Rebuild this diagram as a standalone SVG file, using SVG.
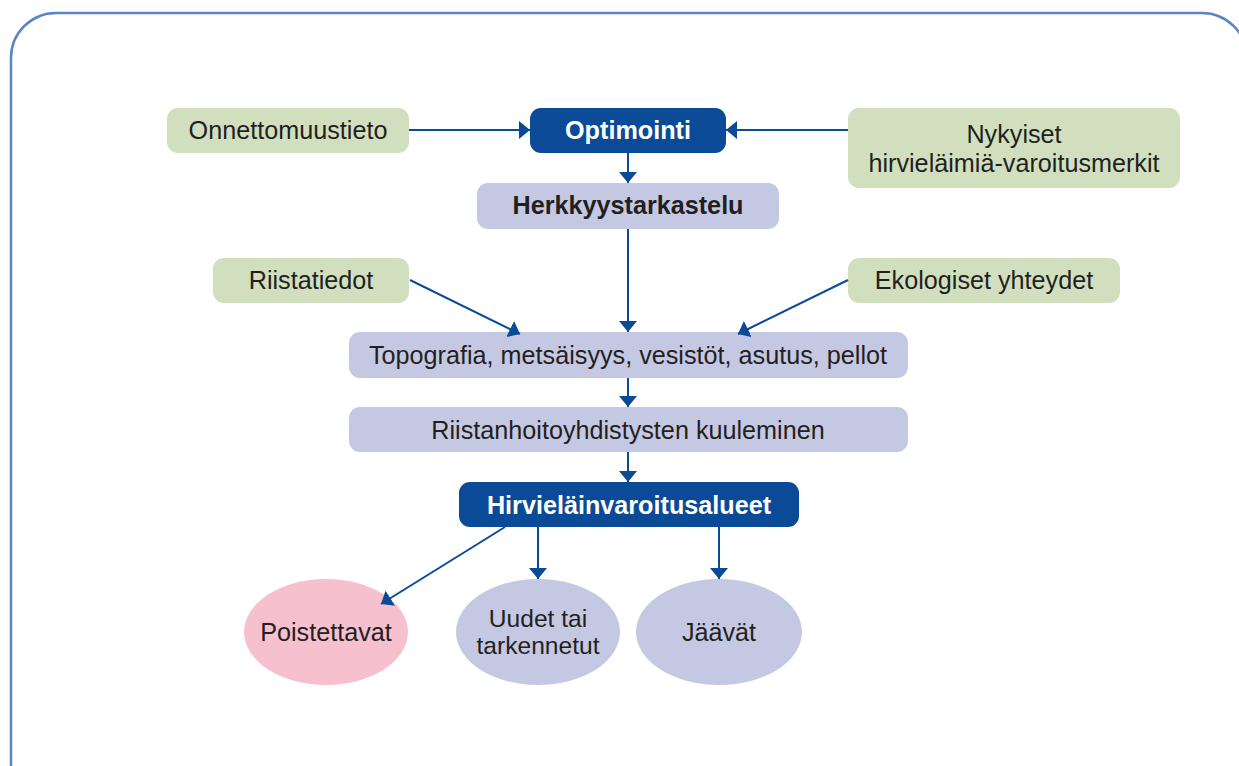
<svg xmlns="http://www.w3.org/2000/svg" width="1239" height="766" viewBox="0 0 1239 766">
<style>
.g{fill:#d1dfbf}
.l{fill:#c5c8e3}
.d{fill:#0b4a96}
.p{fill:#f6c0cf}
text{font-family:"Liberation Sans",Arial,sans-serif;font-size:25.2px;fill:#231f20;text-anchor:middle}
.b{font-weight:bold}
.w{fill:#ffffff}
.s{font-size:24.6px}
.c{stroke:#0b4a96;stroke-width:2;fill:none}
</style>
<defs>
<marker id="a" markerWidth="12" markerHeight="18" refX="11" refY="9" orient="auto" markerUnits="userSpaceOnUse">
<path d="M0,0 L11,9 L0,18 Z" fill="#0b4a96"/>
</marker>
</defs>
<rect width="1239" height="766" fill="#ffffff"/>
<path d="M11,770 V58 A45,45 0 0 1 56,13 H1202 A45,45 0 0 1 1247,58 V770" fill="none" stroke="#5a84c4" stroke-width="2.5"/>
<g id="onnettomuustieto"><rect class="g" x="167" y="108" width="242" height="45" rx="11"/><text x="288" y="139">Onnettomuustieto</text></g>
<g id="optimointi"><rect class="d" x="530" y="108" width="196" height="45" rx="11"/><text class="b w" x="628" y="139">Optimointi</text></g>
<g id="nykyiset"><rect class="g" x="848" y="108" width="332" height="80" rx="11"/><text x="1014" y="143">Nykyiset</text><text x="1014" y="172">hirvieläimiä-varoitusmerkit</text></g>
<g id="herkkyystarkastelu"><rect class="l" x="477" y="183" width="302" height="46" rx="11"/><text class="b" x="628" y="214">Herkkyystarkastelu</text></g>
<g id="riistatiedot"><rect class="g" x="213" y="258" width="196" height="45" rx="11"/><text x="311" y="289">Riistatiedot</text></g>
<g id="ekologiset"><rect class="g" x="848" y="258" width="272" height="45" rx="11"/><text x="984" y="289">Ekologiset yhteydet</text></g>
<g id="topografia"><rect class="l" x="349" y="332" width="559" height="46" rx="11"/><text x="628" y="364">Topografia, metsäisyys, vesistöt, asutus, pellot</text></g>
<g id="riistanhoito"><rect class="l" x="349" y="407" width="559" height="45" rx="11"/><text x="628" y="439">Riistanhoitoyhdistysten kuuleminen</text></g>
<g id="hirvielain"><rect class="d" x="459" y="482" width="340" height="45" rx="11"/><text class="b w" x="629" y="514">Hirvieläinvaroitusalueet</text></g>
<g id="poistettavat"><ellipse class="p" cx="326" cy="632" rx="82" ry="53"/><text x="326" y="641">Poistettavat</text></g>
<g id="uudet"><ellipse class="l" cx="538" cy="632" rx="82" ry="53"/><text class="s" x="538" y="627">Uudet tai</text><text class="s" x="538" y="654">tarkennetut</text></g>
<g id="jaavat"><ellipse class="l" cx="719" cy="632" rx="83" ry="53"/><text x="719" y="641">Jäävät</text></g>
<g id="connectors">
<line class="c" x1="409" y1="130" x2="530" y2="130" marker-end="url(#a)"/>
<line class="c" x1="848" y1="130" x2="726" y2="130" marker-end="url(#a)"/>
<line class="c" x1="628" y1="153" x2="628" y2="183" marker-end="url(#a)"/>
<line class="c" x1="628" y1="229" x2="628" y2="332" marker-end="url(#a)"/>
<line class="c" x1="410" y1="280" x2="520" y2="334" marker-end="url(#a)"/>
<line class="c" x1="848" y1="280" x2="738" y2="334" marker-end="url(#a)"/>
<line class="c" x1="628" y1="378" x2="628" y2="407" marker-end="url(#a)"/>
<line class="c" x1="628" y1="452" x2="628" y2="482" marker-end="url(#a)"/>
<line class="c" x1="505" y1="527" x2="381" y2="604" marker-end="url(#a)"/>
<line class="c" x1="538" y1="527" x2="538" y2="579" marker-end="url(#a)"/>
<line class="c" x1="719" y1="527" x2="719" y2="579" marker-end="url(#a)"/>
</g>
</svg>
